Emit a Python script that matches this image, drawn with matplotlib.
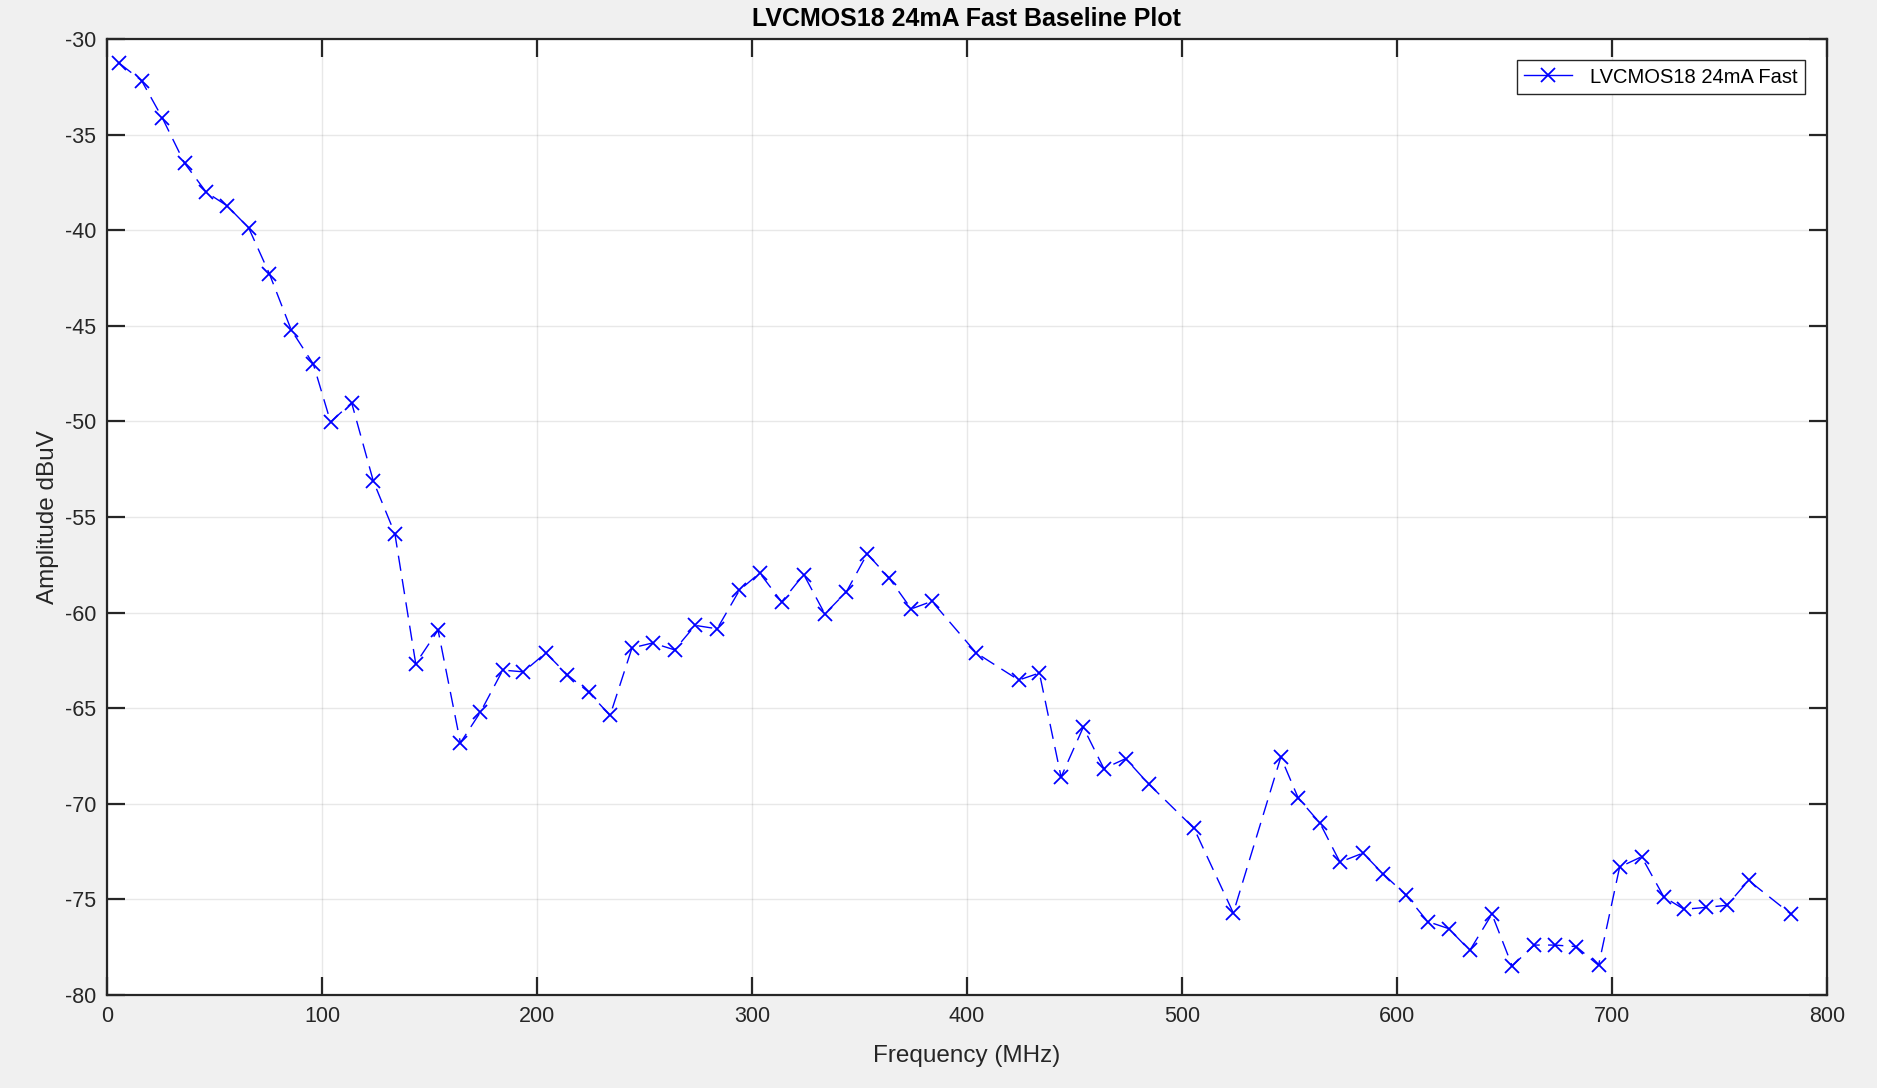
import matplotlib
matplotlib.use("Agg")
import matplotlib.pyplot as plt
from matplotlib.lines import Line2D

plt.rcParams["font.family"] = ["Liberation Sans", "DejaVu Sans"]
plt.rcParams["axes.unicode_minus"] = False

freq_mhz = [5.7, 16.1, 25.7, 36.1, 46.2, 55.8, 65.9, 75.5, 85.7, 96.0,
            104.0, 113.8, 123.9, 133.9, 143.6, 154.0, 164.4, 173.7, 184.1, 193.7,
            204.1, 214.2, 224.0, 234.0, 244.2, 253.8, 264.0, 273.6, 283.8, 294.2,
            303.6, 313.8, 324.1, 333.9, 343.9, 353.6, 363.8, 374.1, 383.7, 404.3,
            424.1, 433.7, 443.8, 454.1, 463.7, 473.8, 484.5, 505.6, 523.9, 546.0,
            554.1, 564.2, 573.5, 584.2, 593.6, 604.0, 614.3, 624.1, 633.9, 644.2,
            653.6, 663.9, 673.5, 683.4, 693.8, 703.6, 713.8, 724.2, 733.6, 743.7,
            753.5, 763.6, 783.4]

amplitude_dbuv = [-31.27, -32.18, -34.12, -36.50, -38.02, -38.72, -39.88, -42.27, -45.22, -47.01,
                  -50.03, -49.03, -53.13, -55.87, -62.67, -60.92, -66.81, -65.21, -63.01, -63.10,
                  -62.11, -63.26, -64.16, -65.38, -61.85, -61.59, -61.95, -60.67, -60.85, -58.83,
                  -57.93, -59.44, -58.01, -60.07, -58.92, -56.93, -58.19, -59.81, -59.41, -62.11,
                  -63.53, -63.16, -68.60, -66.00, -68.16, -67.64, -68.96, -71.28, -75.71, -67.56,
                  -69.70, -71.01, -73.05, -72.58, -73.67, -74.75, -76.16, -76.53, -77.67, -75.77,
                  -78.48, -77.39, -77.39, -77.47, -78.45, -73.31, -72.77, -74.88, -75.52, -75.42,
                  -75.31, -74.01, -75.78]

x_ticks = [0, 100, 200, 300, 400, 500, 600, 700, 800]
y_ticks = [-80, -75, -70, -65, -60, -55, -50, -45, -40, -35, -30]
series_name = "LVCMOS18 24mA Fast"

fig = plt.figure(figsize=(18.77, 10.88), dpi=100, facecolor="#f0f0f0")
ax = fig.add_axes([0.057, 0.0855, 0.9163, 0.8787])
ax.set_facecolor("white")

line_color = "#0000ff"
ax.plot(freq_mhz, amplitude_dbuv, linestyle=(0, (11, 6)), color=line_color,
        linewidth=1.0, marker="x", markersize=10, markeredgewidth=1.3)

ax.set_xlim(0, 800)
ax.set_ylim(-80, -30)
ax.set_xticks(x_ticks)
ax.set_yticks(y_ticks)
ax.grid(True, color="#262626", alpha=0.10, linewidth=1.0)
ax.set_axisbelow(True)

edge = "#262626"
for s in ax.spines.values():
    s.set_color(edge)
    s.set_linewidth(1.6)
ax.tick_params(direction="in", length=13, width=1.6, color=edge,
               top=True, right=True, labelsize=15.5, labelcolor=edge, pad=8)

ax.set_xlabel("Frequency (MHz)", fontsize=17.5, color=edge, labelpad=13)
ax.set_ylabel("Amplitude dBuV", fontsize=17.5, color=edge, labelpad=4)
ax.set_title("LVCMOS18 24mA Fast Baseline Plot", fontsize=18,
             fontweight="bold", color="black", pad=9)

handle = Line2D([], [], color=line_color, linewidth=1.0, marker="x",
                markersize=10, markeredgewidth=1.3)
leg = ax.legend([handle], [series_name], loc="upper right",
                bbox_to_anchor=(0.993, 0.988), fontsize=14.5,
                fancybox=False, framealpha=1, edgecolor=edge,
                handlelength=2.4, borderpad=0.35, handletextpad=0.9)
leg.get_frame().set_linewidth(1.0)

fig.savefig("out.png", dpi=100, facecolor=fig.get_facecolor())
